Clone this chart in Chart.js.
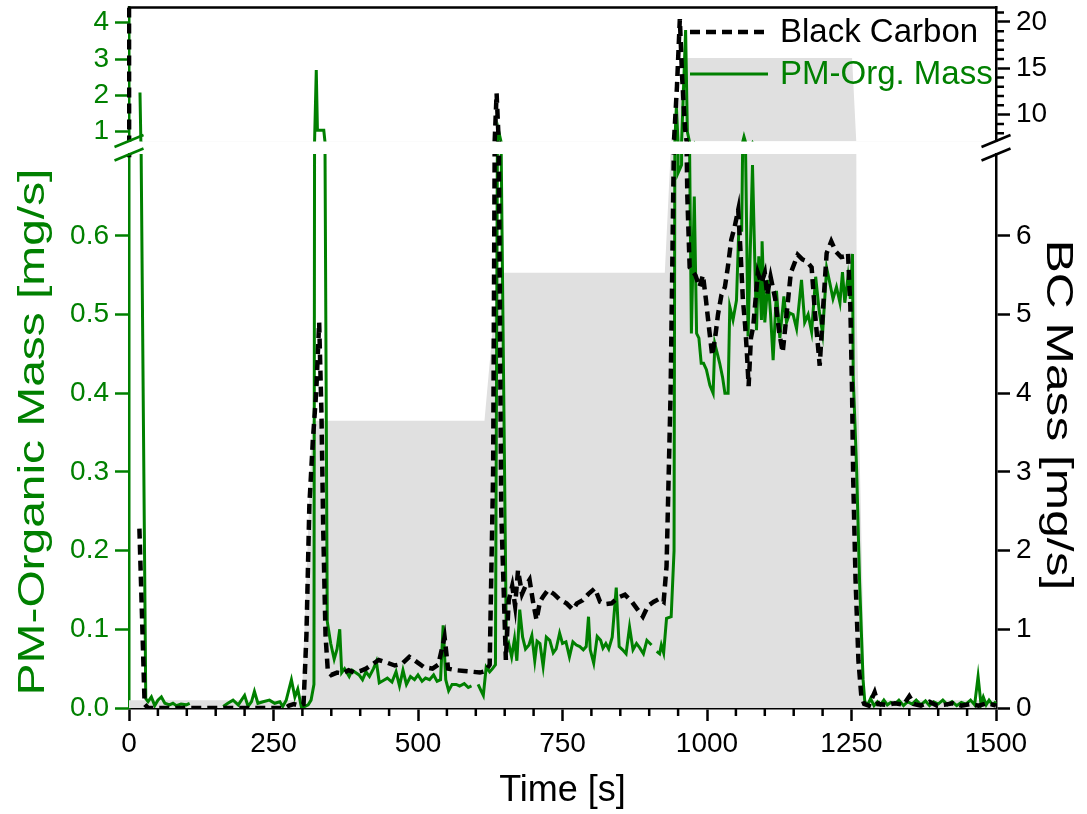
<!DOCTYPE html>
<html>
<head>
<meta charset="utf-8">
<script src="https://cdn.jsdelivr.net/npm/chart.js@4.4.1/dist/chart.umd.min.js"></script>
<style>
  html, body { margin: 0; padding: 0; background: #fff; }
  #wrap { position: relative; width: 1087px; height: 814px; overflow: hidden; }
  #wrap canvas { position: absolute; left: 0; }
  #upper { top: 0; }
  #lower { top: 120px; }
</style>
</head>
<body>
<div id="wrap">
  <canvas id="upper" width="1087" height="150"></canvas>
  <canvas id="lower" width="1087" height="694"></canvas>
</div>
<script>
// ---- measured series ------------------------------------------------------
// PM organic mass flow [mg/s]; null marks gaps in the record
const orgTime = [19, 20.5, 29, 33, 38.7, 44.5, 50, 56, 62, 70, 76, 82, 90, 99, 105, 130,
  163, 171, 180, 189, 200, 206, 212, 217, 223, 232, 243, 252, 261, 266, 272, 281, 287, 292, 298,
  304, 310, 315, 320, 324, 326, 337, 343, 349, 355, 360, 364.6, 368, 373, 381, 386, 390, 398,
  404, 410, 416, 423, 428, 433, 440, 447, 455, 462, 468, 474, 480, 487, 494, 500, 507, 513, 520,
  527, 533, 539, 543.5, 548, 553, 559, 566, 572, 580, 587, 592.5, 598, 604, 609, 613, 618, 624,
  629, 634, 639, 653, 657, 662, 667, 671, 676, 681, 686, 692, 697, 702, 706, 711, 716.5, 722,
  728, 734, 739, 745, 750, 756, 762, 768, 774, 780, 786, 791, 795, 798, 804, 810, 816, 820, 825,
  830, 836, 843, 848, 854, 860, 866, 872, 878, 884, 890, 896, 904, 908, 913, 918, 921, 925, 930,
  938, 943, 947, 950, 956, 963, 966, 973, 978, 982, 986, 990, 994, 999, 1005, 1010.6, 1013.5,
  1018, 1022, 1027, 1031, 1036.5, 1039.4, 1045, 1051, 1055, 1060, 1064, 1071, 1078.7, 1085.6,
  1089.6, 1094.2, 1095.3, 1100, 1105.7, 1110, 1114.4, 1120.2, 1126, 1133, 1137.6, 1143.3, 1149,
  1155, 1163.5, 1169, 1175, 1181, 1188, 1194, 1200, 1207, 1212.5, 1218, 1224, 1230, 1234.4,
  1238.4, 1244, 1248, 1251.7, 1253, 1259, 1264, 1270, 1273, 1278, 1283, 1289, 1295, 1300, 1306,
  1312, 1318, 1325, 1332, 1340, 1347, 1355, 1362, 1370, 1378, 1385, 1392, 1400, 1408, 1416, 1424,
  1432, 1440, 1448, 1456, 1463, 1469, 1474, 1478, 1483, 1488, 1494, 1500];
const orgMass = [2.08, 0.75, 0.012, 0.008, 0.014, 0.003, 0.010, 0.014, 0.006, 0.004, 0.006, 0.003, 0.005, 0.004, 0.006, null,
  0.002, 0.006, 0.010, 0.004, 0.016, 0.002, 0.008, 0.021, 0.006, 0.008, 0.010, 0.006, 0.008, 0.002, 0.010, 0.036, 0.014, 0.024, 0.002,
  0.002, 0.004, 0.010, 0.030, 2.70, 1.04, 1.04, 0.110, 0.082, 0.062, 0.075, 0.100, 0.045, 0.050, 0.040, 0.048, 0.046, 0.042,
  0.036, 0.046, 0.040, 0.050, 0.059, 0.032, 0.035, 0.038, 0.033, 0.046, 0.028, 0.048, 0.030, 0.040, 0.036, 0.042, 0.034, 0.038, 0.036,
  0.042, 0.034, 0.036, 0.105, 0.036, 0.022, 0.030, 0.030, 0.028, 0.031, 0.026, 0.028, null, 0.030, 0.022, 0.016, 0.052, 0.046,
  0.050, 0.055, 1.05, 0.075, 0.082, 0.065, 0.088, 0.060, 0.125, 0.090, 0.075, 0.080, 0.092, 0.060, 0.085, 0.082, 0.053, 0.090,
  0.086, 0.070, 0.075, 0.095, 0.082, 0.084, 0.065, 0.084, 0.080, 0.078, 0.074, 0.078, 0.116, 0.074, 0.057, 0.091, 0.086, 0.076, 0.082,
  0.075, 0.090, 0.153, 0.078, 0.074, 0.069, 0.103, 0.074, 0.082, 0.076, 0.069, 0.086, 0.080, null, 0.072, 0.069, 0.080, 0.070, 0.114,
  0.116, 0.200, 1.69, 0.68, 0.69, 3.80, 1.00, 0.476, 0.650, 0.476, 0.470, 0.438, 0.438, 0.430, 0.410, 0.400, 0.463,
  0.450, 0.438, 0.420, 0.400, 0.400, 0.510, 0.493, 0.518, 0.607, 0.607, 0.860, 0.472, 0.690, 0.480,
  0.574, 0.493, 0.593, 0.490, 0.544, 0.500, 0.442, 0.530, 0.470, 0.523, 0.490, 0.502, 0.500,
  0.482, 0.544, 0.490, 0.500, 0.478, 0.548, 0.505, 0.476, 0.559, 0.540, 0.520, 0.535, 0.515, 0.554,
  0.515, 0.548, 0.520, 0.577, 0.420, 0.300, 0.160, 0.036, 0.008, 0.004, 0.012, 0.003, 0.008, 0.004, 0.010,
  0.004, 0.007, 0.005, 0.010, 0.003, 0.008, 0.005, 0.010, 0.004, 0.009, 0.003, 0.008, 0.005, 0.010, 0.004, 0.008,
  0.003, 0.007, 0.005, 0.010, 0.004, 0.040, 0.005, 0.014, 0.004, 0.010, 0.004, 0.008];

// Black carbon mass flow [mg/s]
const bcTime = [0, 0.2, 5, 18, 27, 33, 270, 277, 285, 295, 302, 307, 312, 318, 324, 329, 333, 336, 340,
  344, 350, 360, 370, 380, 390, 400, 410, 420, 432, 445, 460, 472, 485, 495, 510, 525, 535, 546, 552,
  566, 580, 595, 607, 617, 624, 630, 636, 639, 644, 652, 657, 663, 668, 673, 680, 686, 693, 699, 705,
  711, 716, 725, 735, 745, 757, 768, 775, 785, 795, 806, 815, 825, 835, 845, 858, 870, 880, 889, 898,
  908, 918, 925, 930, 937, 943, 948, 953, 957, 962, 966, 970, 980, 987, 993, 998, 1003, 1009, 1014,
  1019, 1025, 1031, 1036, 1042, 1048, 1054, 1058, 1062, 1066, 1069, 1072, 1076, 1080, 1088, 1094,
  1100, 1104, 1110, 1118, 1125, 1131, 1137, 1145, 1157, 1165, 1172, 1181, 1187, 1192, 1195, 1201,
  1207, 1215, 1223, 1232, 1238, 1244, 1248, 1251, 1253, 1257, 1262, 1267, 1272, 1280, 1290, 1296,
  1310, 1325, 1340, 1350, 1358, 1370, 1385, 1398, 1410, 1425, 1440, 1455, 1470, 1485, 1500];
const bcMass = [25, 7.0, null, 2.28, 0.05, 0.0, 0.0, 0.03, 0.05, 0.03, 0.05, 0.93, 2.57, 3.39, 4.03, 4.90, 3.74, 2.28, 0.93,
  0.47, 0.42, 0.45, 0.44, 0.48, 0.45, 0.47, 0.50, 0.55, 0.61, 0.58, 0.54, 0.56, 0.65, 0.60, 0.52, 0.50, 0.55, 0.90, 0.50,
  0.48, 0.47, 0.46, 0.45, 0.47, 0.55, 3.0, 12.3, 8.0, 2.5, 0.61, 1.37, 1.55, 1.30, 1.75, 1.45, 1.55, 1.63, 1.35, 1.12,
  1.35, 1.41, 1.50, 1.45, 1.38, 1.33, 1.25, 1.33, 1.37, 1.45, 1.52, 1.35, 1.32, 1.33, 1.40, 1.44, 1.35, 1.25, 1.16, 1.30,
  1.35, 1.39, 1.35, 1.80, 4.00, 7.30, 13.0, 20.3, 14.0, 8.5, 6.5, 5.6, 5.5, 5.35, 5.5, 5.2, 4.86, 4.48, 4.7,
  5.0, 5.25, 5.35, 5.6, 5.95, 6.12, 6.33, 5.8, 5.2, 4.86, 4.52, 4.09, 4.7, 4.85, 5.53, 5.4,
  5.53, 5.25, 5.48, 5.2, 4.77, 4.52, 4.95, 5.53, 5.76, 5.7, 5.68, 5.6, 5.0, 4.6, 4.35, 5.1,
  5.78, 5.93, 5.8, 5.73, 5.74, 5.78, 5.1, 4.0, 2.9, 1.63, 0.6, 0.15, 0.05, 0.03, 0.20, 0.05,
  0.04, 0.06, 0.04, 0.15, 0.05, 0.03, 0.08, 0.03, 0.04, 0.06, 0.03, 0.05, 0.03, 0.06, 0.03];

// Operating-point steps shown as the shaded band (left-axis units)
const loadTime  = [0, 299, 317, 615, 638, 927, 938, 966, 1251, 1259, 1273, 1500];
const loadLevel = [0.010, 0.010, 0.365, 0.365, 0.553, 0.553, 0.72, 3.03, 3.03, 0.50, 0.010, 0.010];

// ---- axis ticks -------------------------------------------------------------
const timeTicks       = [0, 250, 500, 750, 1000, 1250, 1500];
const timeMinorTicks  = [50, 100, 150, 200, 300, 350, 400, 450, 550, 600, 650, 700, 800, 850, 900, 950,
                         1050, 1100, 1150, 1200, 1300, 1350, 1400, 1450];
const orgTicksLow     = [0, 0.1, 0.2, 0.3, 0.4, 0.5, 0.6];
const orgTicksHigh    = [1, 2, 3, 4];
const bcTicksLow      = [0, 1, 2, 3, 4, 5, 6];
const bcTicksHigh     = [10, 15, 20];
const bcMinorHigh     = [8, 9, 11, 12, 13, 14, 16, 17, 18, 19, 21];

// ---- styling ----------------------------------------------------------------
const GREEN = '#008000';
const BLACK = '#000000';
const SHADE = '#e0e0e0';
const AXIS_LW = 2.5;
const FAMILY = "'Liberation Sans', Arial, Helvetica, sans-serif";
Chart.defaults.font.family = FAMILY;
Chart.defaults.color = BLACK;

const pts = (xs, ys) => xs.map((x, i) => ({ x: x, y: ys[i] }));
const lineClip = { left: 2, right: 2, top: 0, bottom: 0 };

function makeDatasets(orgAxis, bcAxis) {
  return [
    { label: 'Black Carbon', data: pts(bcTime, bcMass), yAxisID: bcAxis,
      borderColor: BLACK, borderWidth: 4.5, borderDash: [10, 6], borderCapStyle: 'butt',
      pointRadius: 0, fill: false, tension: 0, order: 1, clip: lineClip },
    { label: 'PM-Org. Mass', data: pts(orgTime, orgMass), yAxisID: orgAxis,
      borderColor: GREEN, borderWidth: 3, pointRadius: 0, fill: false, tension: 0, order: 2, clip: lineClip },
    { label: 'Operating point', data: pts(loadTime, loadLevel), yAxisID: orgAxis,
      borderColor: 'rgba(0,0,0,0)', borderWidth: 1, backgroundColor: SHADE, fill: 'origin',
      pointRadius: 0, tension: 0, order: 3, clip: lineClip }
  ];
}

function yAxis(color, width, tickValues, fmt) {
  return {
    type: 'linear',
    afterBuildTicks: s => { s.ticks = tickValues.map(v => ({ value: v })); },
    afterFit: s => { s.width = width; s.paddingTop = 0; s.paddingBottom = 0; },
    border: { display: true, color: color, width: AXIS_LW },
    grid: { drawOnChartArea: false, drawTicks: true, tickLength: 14, tickColor: color, tickWidth: AXIS_LW },
    ticks: { color: color, font: { size: 28 }, padding: 6, autoSkip: false, callback: fmt || (v => String(v)) }
  };
}

// top frame line of the upper panel
const topFrame = {
  id: 'topFrame',
  afterDraw(chart) {
    const { ctx, chartArea: a } = chart;
    ctx.save();
    ctx.strokeStyle = BLACK;
    ctx.lineWidth = AXIS_LW;
    ctx.beginPath();
    ctx.moveTo(a.left - AXIS_LW / 2, a.top);
    ctx.lineTo(a.right + AXIS_LW / 2, a.top);
    ctx.stroke();
    ctx.restore();
  }
};

// short minor ticks along an axis
function minorTicks(scaleId, values, len) {
  return {
    id: 'minor_' + scaleId,
    afterDraw(chart) {
      const s = chart.scales[scaleId];
      const ctx = chart.ctx;
      ctx.save();
      ctx.strokeStyle = BLACK;
      ctx.lineWidth = AXIS_LW;
      ctx.beginPath();
      values.forEach(v => {
        const p = s.getPixelForValue(v);
        if (s.isHorizontal()) {
          ctx.moveTo(p, s.top); ctx.lineTo(p, s.top + len);
        } else {
          ctx.moveTo(s.left, p); ctx.lineTo(s.left + len, p);
        }
      });
      ctx.stroke();
      ctx.restore();
    }
  };
}

// legend in the upper right corner of the upper panel
const legendBlock = {
  id: 'legendBlock',
  afterDraw(chart) {
    const { ctx, chartArea: a } = chart;
    const ds = chart.data.datasets;
    const rows = [ds[0], ds[1]];
    ctx.save();
    ctx.font = '33px ' + FAMILY;
    ctx.textBaseline = 'middle';
    ctx.textAlign = 'left';
    rows.forEach((d, i) => {
      const y = a.top + 24.5 + i * 42;
      ctx.strokeStyle = d.borderColor;
      ctx.lineWidth = d.borderWidth;
      ctx.setLineDash(d.borderDash || []);
      ctx.beginPath();
      ctx.moveTo(a.right - 306, y);
      ctx.lineTo(a.right - 228, y);
      ctx.stroke();
      ctx.setLineDash([]);
      ctx.fillStyle = d.borderColor;
      ctx.fillText(d.label, a.right - 216, y + 1);
    });
    ctx.restore();
  }
};

// axis break marks between the two panels
const breakMarks = {
  id: 'breakMarks',
  afterDraw(chart) {
    const { ctx, chartArea: a } = chart;
    const sides = [{ x: a.left, c: GREEN }, { x: a.right, c: BLACK }];
    ctx.save();
    ctx.lineWidth = AXIS_LW;
    sides.forEach(sd => {
      ctx.strokeStyle = sd.c;
      [a.top - 13, a.top + 0.5].forEach(cy => {
        ctx.beginPath();
        ctx.moveTo(sd.x - 14.5, cy + 6);
        ctx.lineTo(sd.x + 14.5, cy - 6);
        ctx.stroke();
      });
    });
    ctx.restore();
  }
};

// rotated, lengthwise-stretched titles of the two value axes
function drawSideTitle(ctx, text, x, y, angle, stretch, color) {
  ctx.save();
  ctx.translate(x, y);
  ctx.rotate(angle);
  ctx.scale(stretch, 1);
  ctx.font = '36px ' + FAMILY;
  ctx.textAlign = 'center';
  ctx.textBaseline = 'middle';
  ctx.fillStyle = color;
  ctx.fillText(text, 0, 0);
  ctx.restore();
}
const sideTitles = {
  id: 'sideTitles',
  afterDraw(chart) {
    const a = chart.chartArea;
    const l = chart.scales.orgLow, r = chart.scales.bcLow;
    const mid = (a.top + a.bottom) / 2;
    drawSideTitle(chart.ctx, 'PM-Organic Mass [mg/s]', l.left + 34, mid + 1, -Math.PI / 2, 1.33, GREEN);
    drawSideTitle(chart.ctx, 'BC Mass [mg/s]', r.right - 30, mid - 16, Math.PI / 2, 1.38, BLACK);
  }
};

const common = {
  responsive: false,
  animation: false,
  events: [],
  plugins: { legend: { display: false }, tooltip: { enabled: false } }
};

// ---- upper panel (above the break) ----------------------------------------
new Chart(document.getElementById('upper'), {
  type: 'line',
  data: { datasets: makeDatasets('orgHigh', 'bcHigh') },
  options: Object.assign({}, common, {
    layout: { padding: { top: 7.5, bottom: 8.5, left: 0, right: 0 } },
    scales: {
      x: { type: 'linear', min: 0, max: 1500, display: false },
      orgHigh: Object.assign(yAxis(GREEN, 129, orgTicksHigh), { position: 'left', min: 0.73, max: 4.42 }),
      bcHigh: Object.assign(yAxis(BLACK, 91, bcTicksHigh), { position: 'right', min: 7.1, max: 21.55 })
    }
  }),
  plugins: [topFrame, minorTicks('bcHigh', bcMinorHigh, 8), legendBlock]
});

// ---- lower panel (below the break) ----------------------------------------
new Chart(document.getElementById('lower'), {
  type: 'line',
  data: { datasets: makeDatasets('orgLow', 'bcLow') },
  options: Object.assign({}, common, {
    layout: { padding: { top: 34, bottom: 0, left: 0, right: 0 } },
    scales: {
      x: {
        type: 'linear', position: 'bottom', min: 0, max: 1500,
        afterBuildTicks: s => { s.ticks = timeTicks.map(v => ({ value: v })); },
        afterFit: s => { s.height = 106; s.paddingLeft = 0; s.paddingRight = 0; },
        border: { display: true, color: BLACK, width: AXIS_LW },
        grid: { drawOnChartArea: false, drawTicks: true, tickLength: 13, tickColor: BLACK, tickWidth: AXIS_LW },
        ticks: { color: BLACK, font: { size: 28 }, padding: 6, maxRotation: 0, autoSkip: false, callback: v => String(v) },
        title: { display: true, text: 'Time [s]', color: BLACK, font: { size: 36 }, padding: { top: 0, bottom: 1 } }
      },
      orgLow: Object.assign(yAxis(GREEN, 129, orgTicksLow, v => v.toFixed(1)), { position: 'left', min: 0, max: 0.704 }),
      bcLow: Object.assign(yAxis(BLACK, 91, bcTicksLow), { position: 'right', min: 0, max: 7.04 })
    }
  }),
  plugins: [minorTicks('x', timeMinorTicks, 8), breakMarks, sideTitles]
});
</script>
</body>
</html>
